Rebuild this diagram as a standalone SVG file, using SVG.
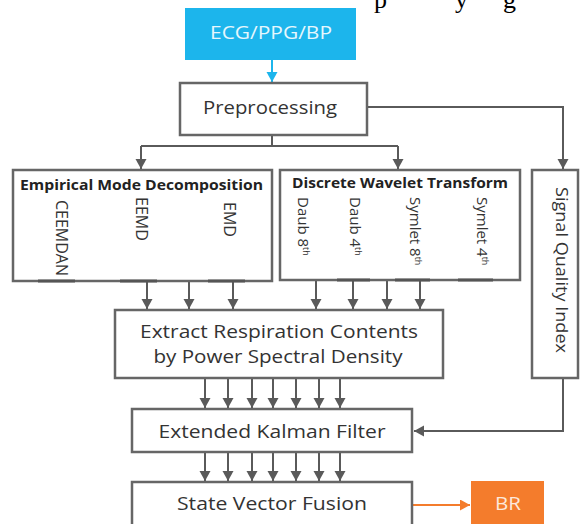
<svg xmlns="http://www.w3.org/2000/svg" width="581" height="524" viewBox="0 0 581 524">
<style>
.box{fill:#fff;stroke:#666;stroke-width:2.5}
.t{font-family:"Open Sans","Liberation Sans",sans-serif;fill:#333;text-anchor:middle}
.v{font-family:"Open Sans","Liberation Sans",sans-serif;fill:#333;font-size:16px}
.b{font-weight:bold;fill:#222}
.ln{fill:none;stroke:#5a5a5a;stroke-width:2}
.bar{stroke:#555;stroke-width:3}
</style>
<defs>
<marker id="ah" markerUnits="userSpaceOnUse" markerWidth="12" markerHeight="12" refX="10" refY="5.5" orient="auto"><path d="M0,0 L10,5.5 L0,11 z" fill="#5a5a5a"/></marker>
<marker id="ahc" markerUnits="userSpaceOnUse" markerWidth="12" markerHeight="12" refX="10" refY="5.5" orient="auto"><path d="M0,0 L10,5.5 L0,11 z" fill="#1cb5ec"/></marker>
<marker id="aho" markerUnits="userSpaceOnUse" markerWidth="12" markerHeight="12" refX="10" refY="5.5" orient="auto"><path d="M0,0 L10,5.5 L0,11 z" fill="#f47c2c"/></marker>
</defs>
<rect width="581" height="524" fill="#fff"/>
<text font-family="Liberation Serif,serif" font-size="26" fill="#000" y="8"><tspan x="374">p</tspan><tspan x="455">y</tspan><tspan x="503">g</tspan></text>

<g id="connectors">
<path class="ln" d="M272,60 V82" stroke="#1cb5ec" style="stroke:#1cb5ec" marker-end="url(#ahc)"/>
<path class="ln" d="M272,135 V146 M141,146 H398"/>
<path class="ln" d="M141,146 V169" marker-end="url(#ah)"/>
<path class="ln" d="M398,146 V169" marker-end="url(#ah)"/>
<path class="ln" d="M367,107 H563 V169" marker-end="url(#ah)"/>
<path class="ln" d="M147,282 V309" marker-end="url(#ah)"/>
<path class="ln" d="M189,282 V309" marker-end="url(#ah)"/>
<path class="ln" d="M233,282 V309" marker-end="url(#ah)"/>
<path class="ln" d="M316,281 V309" marker-end="url(#ah)"/>
<path class="ln" d="M353,281 V309" marker-end="url(#ah)"/>
<path class="ln" d="M387,281 V309" marker-end="url(#ah)"/>
<path class="ln" d="M420,281 V309" marker-end="url(#ah)"/>
<path class="ln" d="M205,379 V408" marker-end="url(#ah)"/>
<path class="ln" d="M228,379 V408" marker-end="url(#ah)"/>
<path class="ln" d="M252,379 V408" marker-end="url(#ah)"/>
<path class="ln" d="M273,379 V408" marker-end="url(#ah)"/>
<path class="ln" d="M296,379 V408" marker-end="url(#ah)"/>
<path class="ln" d="M319,379 V408" marker-end="url(#ah)"/>
<path class="ln" d="M340,379 V408" marker-end="url(#ah)"/>
<path class="ln" d="M205,453 V481" marker-end="url(#ah)"/>
<path class="ln" d="M228,453 V481" marker-end="url(#ah)"/>
<path class="ln" d="M252,453 V481" marker-end="url(#ah)"/>
<path class="ln" d="M273,453 V481" marker-end="url(#ah)"/>
<path class="ln" d="M296,453 V481" marker-end="url(#ah)"/>
<path class="ln" d="M319,453 V481" marker-end="url(#ah)"/>
<path class="ln" d="M340,453 V481" marker-end="url(#ah)"/>
<path class="ln" d="M563,378 V431 H414" marker-end="url(#ah)"/>
<path class="ln" d="M412,505 H470" style="stroke:#f47c2c" marker-end="url(#aho)"/>
</g>

<g id="ecg">
<rect x="185" y="8" width="171" height="52" fill="#1cb5ec"/>
<text class="t" x="271" y="39" font-size="18" style="fill:#e6f7fd" textLength="122" lengthAdjust="spacingAndGlyphs">ECG/PPG/BP</text>
</g>
<g id="preprocessing">
<rect class="box" x="180" y="83" width="187" height="52"/>
<text class="t" x="270" y="114" font-size="19" textLength="134" lengthAdjust="spacingAndGlyphs">Preprocessing</text>
</g>
<g id="emd">
<rect class="box" x="13" y="170" width="259" height="111"/>
<text class="t b" x="141.5" y="190" font-size="14" textLength="243" lengthAdjust="spacingAndGlyphs">Empirical Mode Decomposition</text>
<text class="v" transform="translate(56,200) rotate(90)">CEEMDAN</text>
<text class="v" transform="translate(136,197) rotate(90)">EEMD</text>
<text class="v" transform="translate(224,202) rotate(90)">EMD</text>
<path class="bar" d="M38,281 H75 M120,281 H157 M208,281 H245"/>
</g>
<g id="dwt">
<rect class="box" x="280" y="170" width="240" height="110"/>
<text class="t b" x="400" y="188" font-size="14" textLength="216" lengthAdjust="spacingAndGlyphs">Discrete Wavelet Transform</text>
<text class="v" font-size="15" style="font-size:15px" transform="translate(297.5,197) rotate(90)">Daub 8<tspan font-size="9" style="font-size:9px" dy="-5">th</tspan></text>
<text class="v" style="font-size:15px" transform="translate(349.5,197) rotate(90)">Daub 4<tspan style="font-size:9px" dy="-5">th</tspan></text>
<text class="v" style="font-size:15px" transform="translate(409.5,197) rotate(90)">Symlet 8<tspan style="font-size:9px" dy="-5">th</tspan></text>
<text class="v" style="font-size:15px" transform="translate(476.5,197) rotate(90)">Symlet 4<tspan style="font-size:9px" dy="-5">th</tspan></text>
<path class="bar" d="M337,280 H370 M395,280 H430 M458,280 H493"/>
</g>
<g id="sqi">
<rect class="box" x="532" y="170" width="46" height="208"/>
<text class="v" style="font-size:17px" transform="translate(556,187) rotate(90)" textLength="166" lengthAdjust="spacingAndGlyphs">Signal Quality Index</text>
</g>
<g id="erc">
<rect class="box" x="115" y="310" width="328" height="68"/>
<text class="t" x="279" y="338" font-size="18" textLength="278" lengthAdjust="spacingAndGlyphs">Extract Respiration Contents</text>
<text class="t" x="278" y="363" font-size="18" textLength="249" lengthAdjust="spacingAndGlyphs">by Power Spectral Density</text>
</g>
<g id="ekf">
<rect class="box" x="132" y="409" width="280" height="43"/>
<text class="t" x="272" y="438" font-size="18" textLength="227" lengthAdjust="spacingAndGlyphs">Extended Kalman Filter</text>
</g>
<g id="svf">
<rect class="box" x="132" y="482" width="280" height="50"/>
<text class="t" x="272" y="510" font-size="18" textLength="190" lengthAdjust="spacingAndGlyphs">State Vector Fusion</text>
</g>
<g id="br">
<rect x="471" y="481" width="73" height="50" fill="#f47c2c"/>
<text class="t" x="508" y="510" font-size="18" style="fill:#fde9dc" textLength="26" lengthAdjust="spacingAndGlyphs">BR</text>
</g>
</svg>
